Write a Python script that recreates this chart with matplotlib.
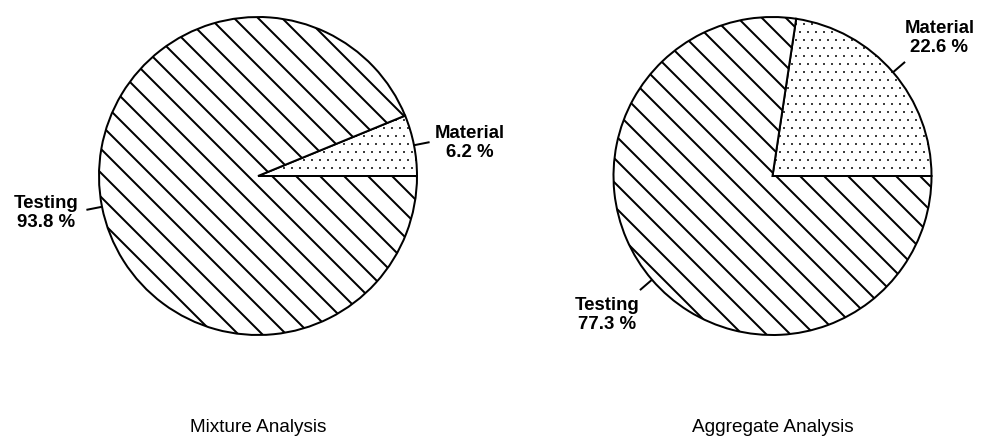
import matplotlib
matplotlib.use("Agg")
import matplotlib.pyplot as plt
import numpy as np

# ---- data ----
categories = ["Material", "Testing"]
mixture_values = [6.2, 93.8]
aggregate_values = [22.6, 77.3]
titles = ["Mixture Analysis", "Aggregate Analysis"]

DPI = 144
W, H = 981, 445
plt.rcParams['font.family'] = ['Liberation Sans', 'DejaVu Sans']
plt.rcParams['hatch.linewidth'] = 1.0

fig = plt.figure(figsize=(W / DPI, H / DPI), dpi=DPI)
fig.patch.set_facecolor('white')

R = 159
centers = [(258, 176), (772.5, 176)]
# label block centers in pie units, relative to pie centre
label_pos = [
    {"Material": (1.33, 0.21), "Testing": (-1.33, -0.23)},
    {"Material": (1.05, 0.87), "Testing": (-1.04, -0.875)},
]
hatches = ['...', '\\\\']

for i, (vals, title) in enumerate(zip([mixture_values, aggregate_values], titles)):
    cx, cy = centers[i]
    ax = fig.add_axes([(cx - R) / W, (H - cy - R) / H, 2 * R / W, 2 * R / H])
    wedges, _ = ax.pie(vals, startangle=0, counterclock=True, radius=1.0,
                       colors=['white', 'white'], hatch=hatches,
                       wedgeprops=dict(edgecolor='black', linewidth=1.0))
    for w, h in zip(wedges, hatches):
        if h.startswith('.') and hasattr(w, 'set_hatch_linewidth'):
            w.set_hatch_linewidth(0.2)
    ax.set_xlim(-1, 1)
    ax.set_ylim(-1, 1)
    ax.set_aspect('equal')
    ax.axis('off')
    for w, cat, v in zip(wedges, categories, vals):
        mid = np.deg2rad((w.theta1 + w.theta2) / 2)
        ax.plot([np.cos(mid) * 1.0, np.cos(mid) * 1.1],
                [np.sin(mid) * 1.0, np.sin(mid) * 1.1],
                color='black', lw=1.0, clip_on=False, solid_capstyle='butt')
        tx, ty = label_pos[i][cat]
        ax.text(tx, ty, f"{cat}\n{v:.1f} %", ha='center', va='center',
                multialignment='center', fontsize=9.3, fontweight='bold',
                linespacing=1.15, clip_on=False)
    fig.text(cx / W, 1 - 428 / H, title, ha='center', va='center', fontsize=9.5)

fig.savefig('out.png', dpi=DPI, facecolor='white')
